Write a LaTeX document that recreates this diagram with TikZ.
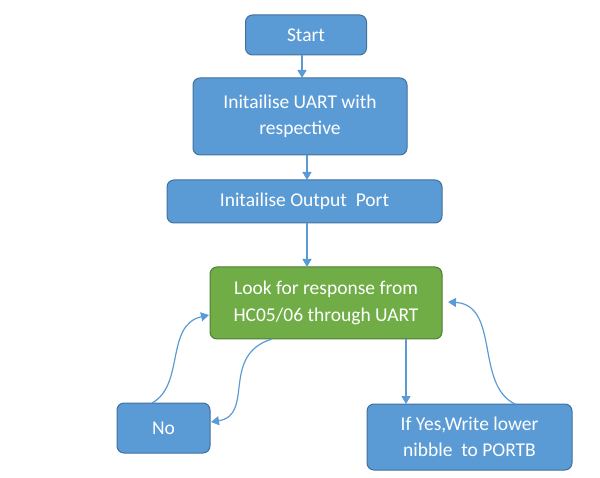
\documentclass[tikz,border=0pt]{standalone}
\usepackage{fontspec}
\setmainfont{Carlito}
\usetikzlibrary{arrows.meta}
\definecolor{bfill}{HTML}{5B9BD5}
\definecolor{bdraw}{HTML}{41719C}
\definecolor{gfill}{HTML}{70AD47}
\definecolor{gdraw}{HTML}{507E32}
\definecolor{arr}{HTML}{5B9BD5}
\tikzset{
  box/.style={draw=bdraw, fill=bfill, line width=1pt, rounded corners=7pt, text=white, font=\fontsize{19.5}{26.5}\selectfont, align=center, inner sep=0pt},
  gbox/.style={box, draw=gdraw, fill=gfill},
  conn/.style={draw=arr, line width=1.2pt, -{Triangle[length=8pt,width=9pt]}}
}
\begin{document}
\begin{tikzpicture}[x=1pt,y=-1pt]
\useasboundingbox (0,0) rectangle (600,478);
\node[box, minimum width=121pt, minimum height=40pt] (start) at (306,35) {Start};
\node[box, minimum width=214pt, minimum height=77pt] (uart) at (300,116.5) {Initailise UART with\\respective};
\node[box, minimum width=275pt, minimum height=43pt] (out) at (304.5,201.5) {Initailise Output\ \ Port};
\node[gbox, minimum width=232pt, minimum height=72pt] (look) at (326,303) {Look for response from\\HC05/06 through UART};
\node[box, minimum width=93pt, minimum height=50pt] (no) at (163.5,428) {No};
\node[box, minimum width=205pt, minimum height=66pt] (yes) at (469.5,437) {If Yes,Write lower\\nibble\ \ to PORTB};
\draw[conn] (start.south -| 302,0) -- (302,78);
\draw[conn] (307,155) -- (307,180);
\draw[conn] (307,223) -- (307,267);
\draw[conn] (406,339) -- (406,404);
\coordinate (noT) at (152,403);
\coordinate (lookL) at (209,315);
\draw[conn] (noT) .. controls (185,385) and (165,325) .. (lookL);
\coordinate (lookB) at (272,339);
\coordinate (noR) at (211,422);
\draw[conn] (lookB) .. controls (220,355) and (255,415) .. (noR);
\coordinate (yesT) at (515,404);
\coordinate (lookR) at (448,302);
\draw[conn] (yesT) .. controls (475,385) and (500,305) .. (lookR);
\end{tikzpicture}
\end{document}
